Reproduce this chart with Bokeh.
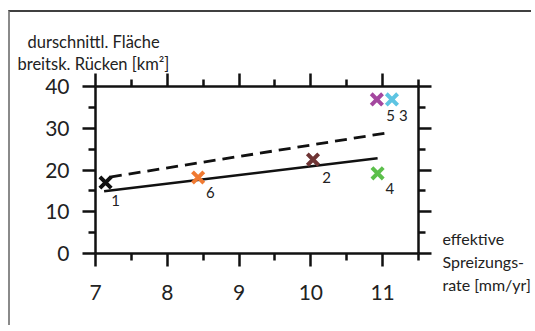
from bokeh.plotting import figure
from bokeh.models import LinearAxis, FixedTicker, ColumnDataSource, CustomJSTickFormatter, Title
from bokeh.core.properties import value
from bokeh.embed import file_html
from bokeh.resources import INLINE

# ---- data ----
site_ids = ["1", "6", "2", "4", "5", "3"]
rate = [7.14, 8.43, 10.03, 10.93, 10.92, 11.13]
area = [17.0, 18.2, 22.5, 19.2, 36.9, 36.9]
colors = ["#111111", "#f07a32", "#6e3434", "#5cbf4b", "#a4479f", "#5ec4e2"]
label_x = [7.28, 8.6, 10.22, 11.1, 11.11, 11.29]
label_y = [12.7, 14.6, 18.2, 15.6, 33.1, 33.1]

fit_solid_x = [7.12, 10.93]
fit_solid_y = [14.9, 22.8]
fit_dash_x = [7.2, 11.1]
fit_dash_y = [18.3, 29.0]

x_ticks = [7, 8, 9, 10, 11]
x_minor = [7.5, 8.5, 9.5, 10.5, 11.5]
y_ticks = [0, 10, 20, 30, 40]
y_minor = [5, 15, 25, 35]

y_title = ["durschnittl. Fläche", "breitsk. Rücken [km²]"]
x_title = ["effektive", "Spreizungs-", "rate [mm/yr]"]

FONT = "Lato"

p = figure(width=523, height=315, x_range=(7, 11.5), y_range=(0, 40),
           output_backend="svg", toolbar_location=None,
           min_border_left=85, min_border_right=114, min_border_top=74,
           min_border_bottom=74)
p.margin = (10, 0, 0, 8)
p.styles = {"border-left": "2px solid #8a8a8a", "border-top": "2px solid #404040"}
p.grid.visible = False
p.outline_line_color = None
p.background_fill_color = "white"
p.border_fill_color = "white"

def style_axis(ax, ticks, minor, labels=True):
    ax.ticker = FixedTicker(ticks=ticks, minor_ticks=minor)
    ax.axis_line_width = 2.5
    ax.axis_line_color = "#111111"
    ax.major_tick_line_width = 2.5
    ax.minor_tick_line_width = 2.5
    ax.major_tick_line_color = "#111111"
    ax.minor_tick_line_color = "#111111"
    ax.major_tick_in = 0
    ax.major_tick_out = 13
    ax.minor_tick_in = 0
    ax.minor_tick_out = 7
    ax.major_label_text_font = FONT
    ax.major_label_text_font_size = "21px"
    ax.major_label_text_color = "#222222"
    if not labels:
        ax.formatter = CustomJSTickFormatter(code="return ''")

style_axis(p.xaxis[0], x_ticks, x_minor)
p.xaxis[0].major_label_standoff = 18
style_axis(p.yaxis[0], y_ticks, y_minor)
p.yaxis[0].major_label_standoff = 13

top = LinearAxis()
style_axis(top, x_ticks, x_minor, labels=False)
p.add_layout(top, "above")
right = LinearAxis()
style_axis(right, y_ticks, y_minor, labels=False)
p.add_layout(right, "right")

# y-axis title: two lines above the plot, left of the frame
for t, off in zip(reversed(y_title), [-78, -68]):
    p.add_layout(Title(text=t, align="left", offset=off, standoff=0,
                       text_font=FONT, text_font_style="normal", text_font_size="16.5px",
                       text_color="#222222"), "above")

# x-axis title: right of the frame, low down (blank lines push it below centre)
lbl = LinearAxis()
lbl.ticker = FixedTicker(ticks=[])
lbl.formatter = CustomJSTickFormatter(code="return ''")
lbl.axis_line_color = None
lbl.major_tick_line_color = None
lbl.minor_tick_line_color = None
lbl.major_tick_out = 0
lbl.minor_tick_out = 0
lbl.axis_label = "\n" * 8 + "\n".join(x_title)
lbl.axis_label_orientation = "horizontal"
lbl.axis_label_text_font = FONT
lbl.axis_label_text_font_style = "normal"
lbl.axis_label_text_font_size = "16px"
lbl.axis_label_text_color = "#222222"
lbl.axis_label_standoff = 11
p.add_layout(lbl, "right")

# fit lines
p.line(fit_solid_x, fit_solid_y, line_color="#111111", line_width=2.5)
p.line(fit_dash_x, fit_dash_y, line_color="#111111", line_width=2.8, line_dash="12 7")

src = ColumnDataSource(dict(x=rate, y=area, c=colors))
p.scatter("x", "y", source=src, marker="x", size=16, line_width=4, line_color="c")

lsrc = ColumnDataSource(dict(x=label_x, y=label_y, t=site_ids))
p.text("x", "y", text="t", source=lsrc, text_font=value(FONT), text_font_size="15px",
       text_color="#222222", text_align="center", text_baseline="middle")

open("out.html", "w").write(file_html(p, INLINE))
